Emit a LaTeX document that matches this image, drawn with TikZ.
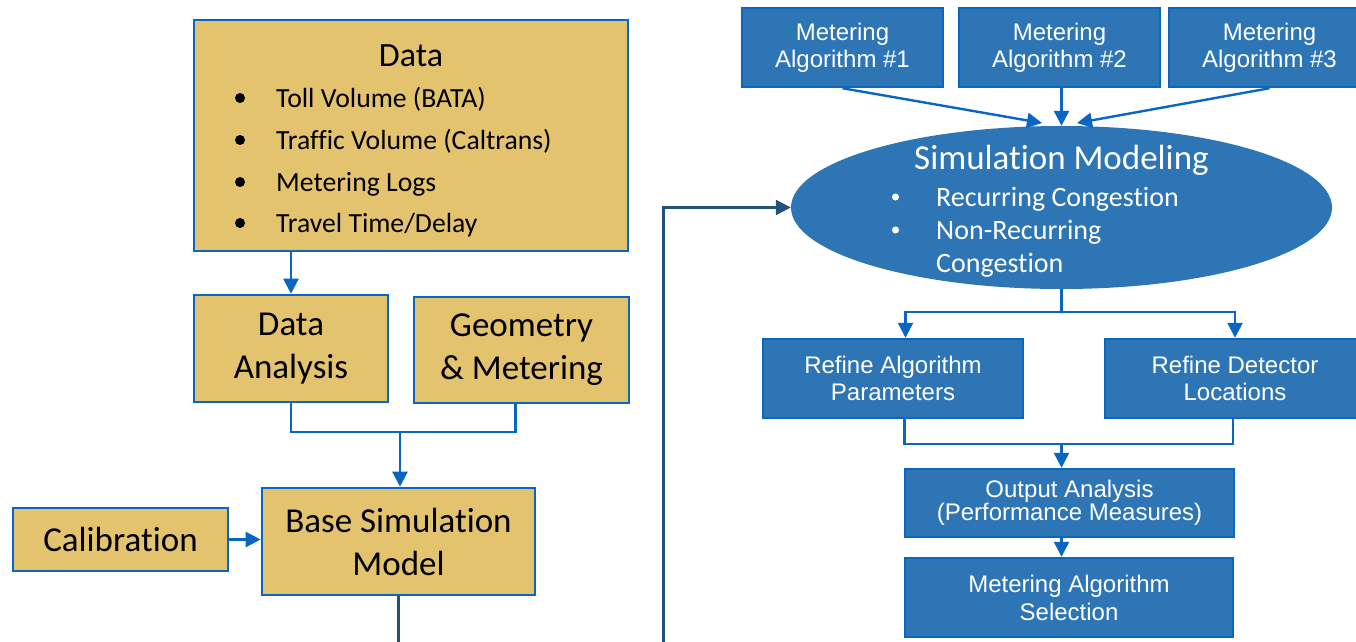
\documentclass[tikz,border=0pt]{standalone}
\usepackage{fontspec}
\setmainfont{Carlito}[Ligatures=CommonOff]
\newfontfamily\arialf{Liberation Sans}
\usetikzlibrary{arrows.meta,shapes.geometric,calc}
\definecolor{tanfill}{HTML}{E4C36F}
\definecolor{bborder}{HTML}{0A66C2}
\definecolor{bfill}{HTML}{2E75B6}
\definecolor{dline}{HTML}{24507E}
\begin{document}
\begin{tikzpicture}[x=1pt,y=-1pt,
  tanbox/.style={draw=bborder, fill=tanfill, line width=2.6pt, inner sep=0pt, align=center, text=black, font=\fontsize{35}{43}\selectfont},
  bluebox/.style={draw=bborder, fill=bfill, line width=2.4pt, inner sep=0pt, align=center, text=white, font=\arialf\fontsize{24}{27}\selectfont},
  bullettext/.style={anchor=base west, inner sep=0pt, font=\fontsize{27.7}{33}\selectfont},
  simtext/.style={anchor=base west, inner sep=0pt, text=white, font=\fontsize{28}{33}\selectfont},
  conn/.style={draw=bborder, line width=2.4pt},
  arr/.style={conn, -{Triangle[length=15pt,width=15pt]}},
  darr/.style={draw=dline, line width=2.4pt, -{Triangle[length=15pt,width=15pt]}},
  dconn/.style={draw=dline, line width=2.4pt}]
\clip (0,0) rectangle (1356,641);
\fill[white] (0,0) rectangle (1356,641);

% ---------- left (tan) part ----------
\node[tanbox, minimum width=434pt, minimum height=231pt] (data) at (411,135.5) {};
\node[anchor=base, inner sep=0pt, font=\fontsize{34}{40}\selectfont] (datat) at (411,66) {Data};
\node[bullettext] (d1) at (276,107) {Toll Volume (BATA)};
\node[bullettext] (d2) at (276,149) {Traffic Volume (Caltrans)};
\node[bullettext] (d3) at (276,191) {Metering Logs};
\node[bullettext] (d4) at (276,232) {Travel Time/Delay};
\foreach \yy in {98,140,182,223} \fill (240,\yy) circle (5pt);

\node[tanbox, minimum width=194pt, minimum height=107pt] (da) at (291,348.5) {Data\\Analysis};
\node[tanbox, minimum width=215pt, minimum height=106pt] (geo) at (521.5,350) {Geometry\\\& Metering};
\node[tanbox, minimum width=273pt, minimum height=107pt] (bsm) at (398.5,541.5) {Base Simulation\\Model};
\node[tanbox, minimum width=215pt, minimum height=63pt] (cal) at (120.5,539.5) {Calibration};

\draw[arr] (data.south -| da.north) -- (da.north);
\coordinate (j1) at (400,432);
\coordinate (gs) at ([xshift=-6pt]geo.south);
\draw[conn] (da.south) -- (da.south |- j1) -- (gs |- j1) -- (gs);
\draw[arr] (j1) -- (j1 |- bsm.north);
\draw[arr] (cal.east) -- (cal.east -| bsm.west);
\coordinate (bsend) at (398.5,650);
\draw[dconn] (bsm.south) -- (bsm.south |- bsend);

% ---------- right (blue) part ----------
\node[bluebox, minimum width=201pt, minimum height=79pt] (m1) at (842.5,47.5) {Metering\\Algorithm \#1};
\node[bluebox, minimum width=201pt, minimum height=79pt] (m2) at (1059.5,47.5) {Metering\\Algorithm \#2};
\node[bluebox, minimum width=201pt, minimum height=79pt] (m3) at (1269.5,47.5) {Metering\\Algorithm \#3};

\node[ellipse, fill=bfill, draw=none, inner sep=0pt, minimum width=541pt, minimum height=163pt] (sim) at (1061.5,207.5) {};
\node[anchor=base, inner sep=0pt, text=white, font=\fontsize{35}{40}\selectfont] (simt) at (1061.5,169) {Simulation Modeling};
\node[simtext] (simb1) at (936,206) {Recurring Congestion};
\node[simtext] (simb2) at (936,239) {Non-Recurring};
\node[simtext] (simb3) at (936,272) {Congestion};
\fill[white] (895.5,197) circle (3.5pt);
\fill[white] (895.5,230) circle (3.5pt);

\node[bluebox, minimum width=260pt, minimum height=79pt] (ra) at (893,378.5) {Refine Algorithm\\Parameters};
\node[bluebox, minimum width=260pt, minimum height=79pt] (rd) at (1235,378.5) {Refine Detector\\Locations};
\node[bluebox, minimum width=329pt, minimum height=68pt, font=\arialf\fontsize{24}{23}\selectfont] (oa) at (1069.5,503) {Output Analysis\\(Performance Measures)};
\node[bluebox, minimum width=328pt, minimum height=79pt, font=\arialf\fontsize{24}{28}\selectfont] (sel) at (1069,597.5) {Metering Algorithm\\Selection};

\coordinate (tipL) at (1042,123);
\coordinate (tipR) at (1077,123);
\draw[arr] (m1.south) -- (tipL);
\draw[arr] (sim.north |- m2.south) -- (sim.north);
\draw[arr] (m3.south) -- (tipR);

\coordinate (fb) at (663.5,650);
\draw[darr] (fb) |- (sim.west);

\coordinate (s1) at (1061.5,312);
\draw[conn] (sim.south) -- (s1);
\draw[arr] (s1) -| ([xshift=12.5pt]ra.north);
\draw[arr] (s1) -| (rd.north);
\coordinate (j2) at (1061.5,444);
\draw[conn] ([xshift=11.5pt]ra.south) |- (j2) -| ([xshift=-2pt]rd.south);
\draw[arr] (j2) -- (j2 |- oa.north);
\draw[arr] (oa.south -| j2) -- (sel.north -| j2);
\end{tikzpicture}
\end{document}
